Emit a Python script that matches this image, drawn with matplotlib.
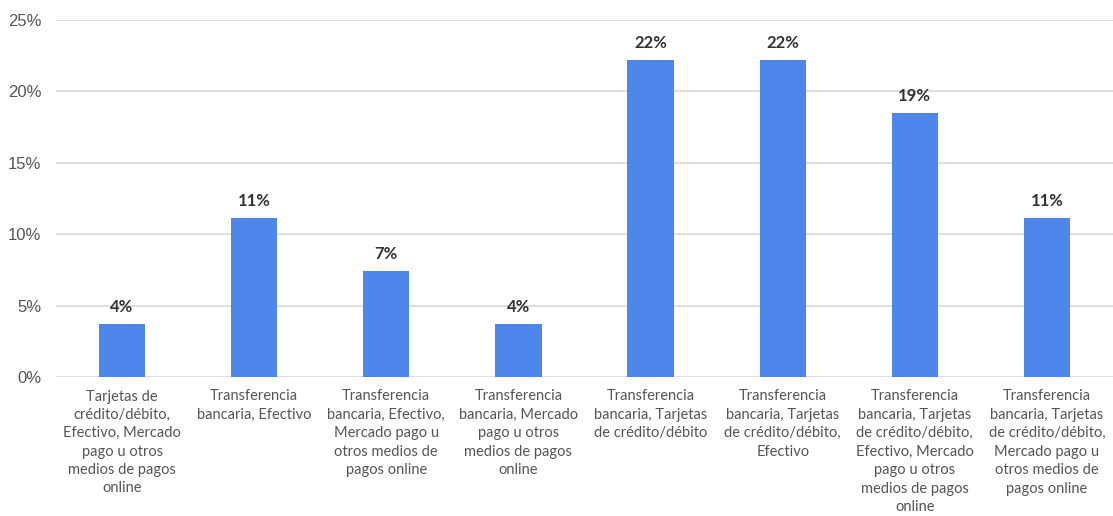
import numpy as np
import matplotlib
matplotlib.use("Agg")
import matplotlib.pyplot as plt
from matplotlib.ticker import FuncFormatter

categories = [
    "Tarjetas de\ncrédito/débito,\nEfectivo, Mercado\npago u otros\nmedios de pagos\nonline",
    "Transferencia\nbancaria, Efectivo",
    "Transferencia\nbancaria, Efectivo,\nMercado pago u\notros medios de\npagos online",
    "Transferencia\nbancaria, Mercado\npago u otros\nmedios de pagos\nonline",
    "Transferencia\nbancaria, Tarjetas\nde crédito/débito",
    "Transferencia\nbancaria, Tarjetas\nde crédito/débito,\nEfectivo",
    "Transferencia\nbancaria, Tarjetas\nde crédito/débito,\nEfectivo, Mercado\npago u otros\nmedios de pagos\nonline",
    "Transferencia\nbancaria, Tarjetas\nde crédito/débito,\nMercado pago u\notros medios de\npagos online",
]
values = [3.7, 11.1, 7.4, 3.7, 22.2, 22.2, 18.5, 11.1]
labels = ["4%", "11%", "7%", "4%", "22%", "22%", "19%", "11%"]

fig = plt.figure(figsize=(11.13, 5.16), dpi=100)
ax = fig.add_axes([56 / 1113, 1 - 377 / 516, 1 - 56 / 1113, 357 / 516])

x = np.arange(len(values))
ax.bar(x, values, width=0.35, color="#4f86ec", zorder=3)
for xi, v, lab in zip(x, values, labels):
    ax.text(xi, v + 0.65, lab, ha="center", va="bottom", fontsize=12,
            color="#333333", family="Lato", fontweight="bold")

ax.set_xlim(-0.5, len(values) - 0.5)
ax.set_ylim(0, 25)
ax.set_yticks([0, 5, 10, 15, 20, 25])
ax.yaxis.set_major_formatter(FuncFormatter(lambda v, p: f"{v:.0f}%"))
ax.grid(axis="y", color="#d9d9d9", linewidth=1.2, zorder=0)
ax.set_xticks(x)
ax.set_xticklabels(categories, fontsize=10.5, color="#555555", family="Lato",
                   linespacing=1.4)
for lab in ax.get_yticklabels():
    lab.set_family("Liberation Sans")
    lab.set_fontsize(12)
    lab.set_color("#555555")
ax.tick_params(axis="both", length=0)
ax.tick_params(axis="x", pad=9)
ax.tick_params(axis="y", pad=10.5)
for s in ax.spines.values():
    s.set_visible(False)

plt.savefig("out.png", dpi=100)
